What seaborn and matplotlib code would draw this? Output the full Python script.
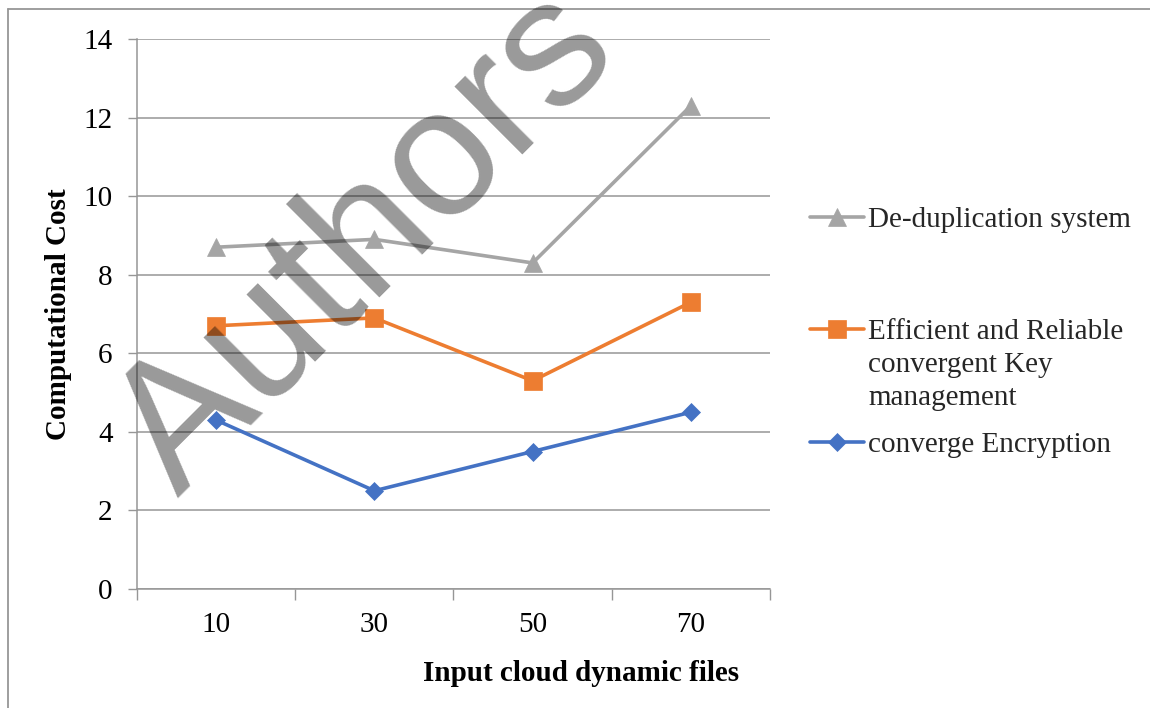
import numpy as np
import pandas as pd
import matplotlib
matplotlib.use("Agg")
import matplotlib.pyplot as plt
import seaborn as sns
from matplotlib.lines import Line2D

# ---------------- data ----------------
categories = ["10", "30", "50", "70"]
dedup = [8.7, 8.9, 8.3, 12.3]
efficient = [6.7, 6.9, 5.3, 7.3]
converge = [4.3, 2.5, 3.5, 4.5]
series_names = ["De-duplication system",
                "Efficient and Reliable\nconvergent Key\nmanagement",
                "converge Encryption"]
yticks = [0, 2, 4, 6, 8, 10, 12, 14]
x_title = "Input cloud dynamic files"
y_title = "Computational Cost"
watermark = "Authors"

# ---------------- style ----------------
sns.set_theme(style="ticks")
plt.rcParams['font.family'] = ['Liberation Serif', 'DejaVu Serif']

W, H = 1150, 708
GRAY = "#969696"
FS = 21

fig = plt.figure(figsize=(W / 100, H / 100), dpi=100)
fig.patch.set_facecolor("white")
ax = fig.add_axes([137 / W, 1 - 589 / H, 633 / W, 550 / H])
ax.set_facecolor("white")

pos = np.arange(len(categories))
styles = [("#A5A5A5", "^", 12.5), ("#ED7D31", "s", 12.5), ("#4472C4", "D", 9)]
series = [dedup, efficient, converge]

handles = []
for name, vals, (c, m, ms) in zip(series_names, series, styles):
    df = pd.DataFrame({"x": pos, "y": vals})
    sns.lineplot(data=df, x="x", y="y", ax=ax, color=c, marker=m,
                 markersize=ms, markeredgecolor=c, markeredgewidth=0.5,
                 linewidth=2.6, legend=False, zorder=3)
    handles.append(ax.get_lines()[-1])

ax.set_xlim(-0.5, len(categories) - 0.5)
ax.set_ylim(yticks[0], yticks[-1])

# category boundaries as major ticks, labels on minor ticks at centres
ax.set_xticks(np.arange(len(categories) + 1) - 0.5)
ax.set_xticklabels([])
ax.set_xticks(pos, minor=True)
ax.set_xticklabels(categories, minor=True)
ax.tick_params(axis="x", which="major", length=8, width=1, color=GRAY,
               direction="out", bottom=True)
ax.tick_params(axis="x", which="minor", length=0, pad=16.5, labelsize=FS,
               labelcolor="black")

ax.set_yticks(yticks)
ax.set_yticklabels([str(t) for t in yticks])
ax.tick_params(axis="y", length=6.5, width=1, color=GRAY, pad=11,
               labelsize=FS, labelcolor="black", left=True)

ax.yaxis.grid(True, color=GRAY, linewidth=1.1)
ax.xaxis.grid(False)
ax.set_axisbelow(True)
for s in ["top", "right"]:
    ax.spines[s].set_visible(False)
for s in ["left", "bottom"]:
    ax.spines[s].set_color(GRAY)
    ax.spines[s].set_linewidth(1.1)

ax.set_xlabel(x_title, fontsize=FS, fontweight="bold", color="black")
ax.xaxis.set_label_coords((581 - 137) / 633, (589 - 660) / 550)
ax.set_ylabel(y_title, fontsize=FS, fontweight="bold", color="black")
ax.yaxis.set_label_coords((72 - 137) / 633, 0.5)

# ---------------- legend (one entry per block, as in the reference) -------
order = [0, 1, 2]
centres = [217, 329, 442]
for i, yc in zip(order, centres):
    leg = fig.legend(handles=[handles[i]], labels=[series_names[i]],
                     loc="upper left",
                     bbox_to_anchor=(810 / W, 1 - (yc - 10) / H),
                     bbox_transform=fig.transFigure, frameon=False,
                     fontsize=FS, handlelength=1.85, handletextpad=0.14,
                     borderpad=0, borderaxespad=0, labelspacing=0)
    for t in leg.get_texts():
        t.set_linespacing(1.36)
    # align handle with the first line of a multi-line label
    for col in leg._legend_handle_box.get_children():
        for hp in col.get_children():
            hp.align = "top"

# ---------------- figure frame ----------------
fig.add_artist(Line2D([7.5 / W, 7.5 / W], [1 - 9 / H, 0], color=GRAY,
                      linewidth=1.3, transform=fig.transFigure))
fig.add_artist(Line2D([7.5 / W, 1], [1 - 9 / H, 1 - 9 / H], color=GRAY,
                      linewidth=1.3, transform=fig.transFigure))

# ---------------- watermark ----------------
fig.text(178 / W, 1 - 499 / H, watermark, rotation=45, rotation_mode="anchor",
         ha="left", va="baseline", fontsize=131,
         family=["Liberation Sans", "DejaVu Sans"], color="black", alpha=0.4,
         zorder=10)

fig.savefig("out.png", dpi=100, facecolor="white")
